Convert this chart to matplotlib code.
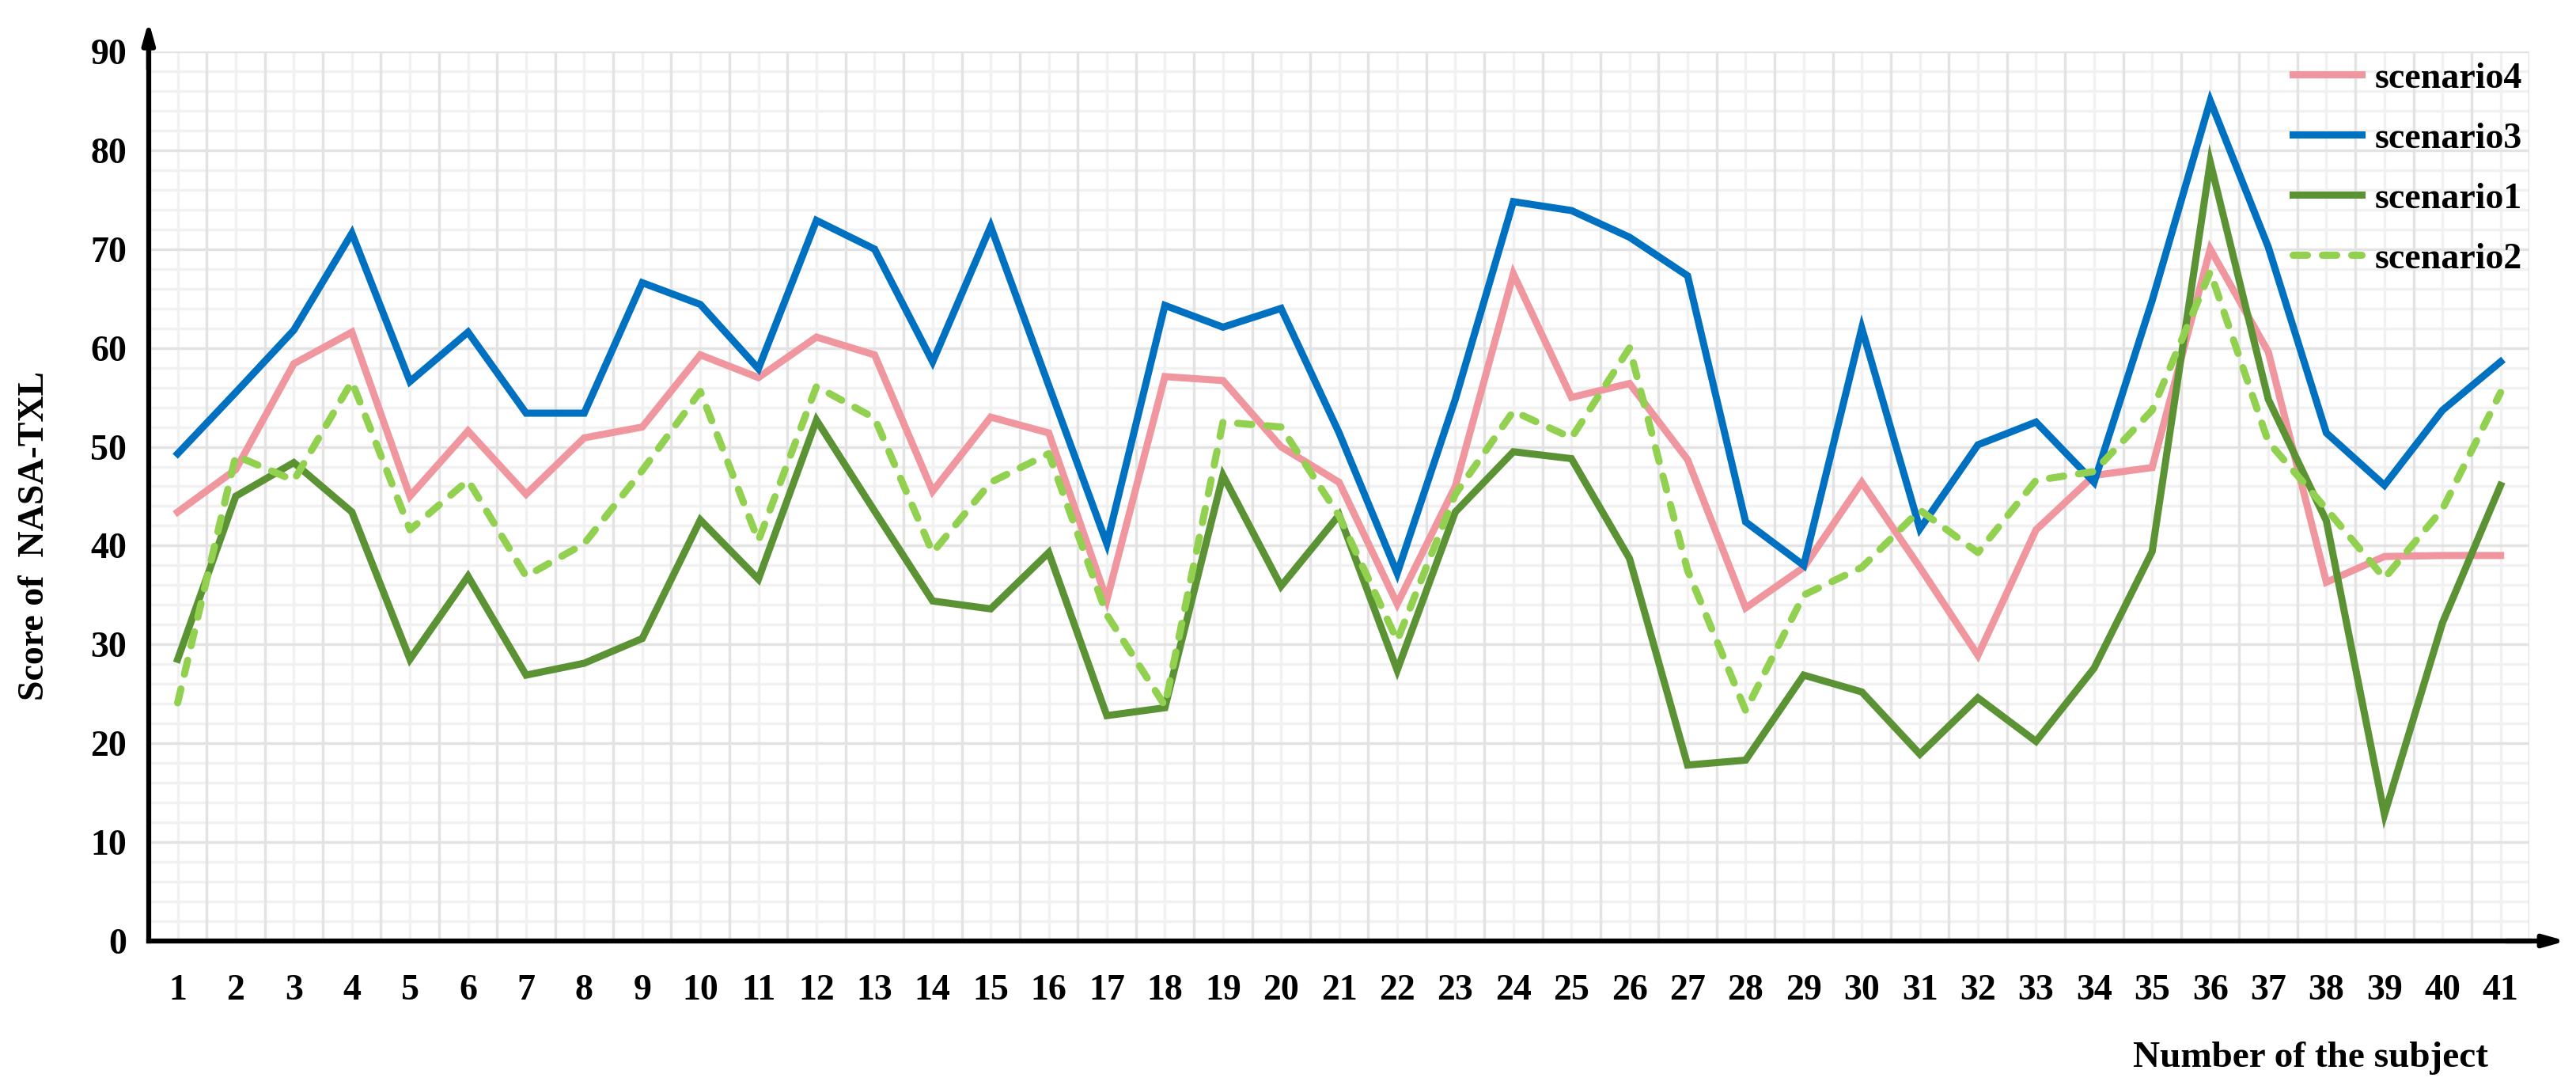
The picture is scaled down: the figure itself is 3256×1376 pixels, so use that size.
import matplotlib
matplotlib.use("Agg")
import matplotlib.pyplot as plt
from matplotlib.ticker import MultipleLocator, FixedLocator

subjects = list(range(1, 42))
scenario4 = [43.4, 47.7, 58.4, 61.6, 45.0, 51.6, 45.2, 50.9, 52.0, 59.3,
             57.0, 61.1, 59.3, 45.5, 53.0, 51.4, 34.5, 57.1, 56.7, 50.0,
             46.4, 34.1, 46.0, 67.5, 55.0, 56.4, 48.7, 33.7, 37.8, 46.4,
             37.8, 28.9, 41.6, 47.1, 47.9, 70.0, 59.6, 36.3, 38.9, 39.0, 39.0]
scenario3 = [49.3, 55.5, 61.8, 71.6, 56.6, 61.6, 53.4, 53.4, 66.6, 64.4,
             57.9, 72.9, 70.0, 58.6, 72.3, 56.2, 40.2, 64.3, 62.1, 64.0,
             51.4, 37.2, 54.8, 74.8, 73.9, 71.2, 67.3, 42.4, 38.0, 62.0,
             41.7, 50.2, 52.5, 46.4, 64.8, 85.0, 70.2, 51.4, 46.1, 53.7, 58.6]
scenario1 = [28.5, 45.0, 48.4, 43.4, 28.5, 36.9, 26.9, 28.1, 30.6, 42.6,
             36.6, 52.7, 43.5, 34.4, 33.6, 39.3, 22.8, 23.6, 47.1, 35.9,
             43.1, 27.4, 43.4, 49.5, 48.8, 38.7, 17.8, 18.3, 26.9, 25.2,
             18.9, 24.6, 20.2, 27.6, 39.4, 78.8, 54.8, 42.5, 12.8, 32.2, 46.1]
scenario2 = [24.1, 49.1, 46.6, 56.6, 41.6, 46.6, 36.9, 40.2, 47.6, 55.6,
             40.5, 56.1, 52.9, 39.3, 46.4, 49.3, 33.0, 23.8, 52.5, 52.0,
             43.0, 30.4, 45.2, 53.6, 50.9, 60.0, 37.5, 23.3, 35.0, 37.8,
             43.6, 39.3, 46.6, 47.5, 53.7, 67.7, 50.5, 43.7, 36.7, 43.7, 55.5]
y_ticks = [0, 10, 20, 30, 40, 50, 60, 70, 80, 90]

plt.rcParams['font.family'] = ['Liberation Serif', 'DejaVu Serif']
plt.rcParams['font.weight'] = 'bold'

fig = plt.figure(figsize=(32.56, 13.76), dpi=100)
ax = fig.add_axes([0.0577, 0.1359, 0.9243, 0.8169])

lw = 6.5
ax.plot(subjects, scenario4, color='#F0969F', lw=lw, label='scenario4', solid_joinstyle='miter', zorder=3)
ax.plot(subjects, scenario3, color='#0070C0', lw=lw, label='scenario3', solid_joinstyle='miter', zorder=4)
ax.plot(subjects, scenario1, color='#5B9234', lw=lw, label='scenario1', solid_joinstyle='miter', zorder=5)
ax.plot(subjects, scenario2, color='#92D050', lw=lw, label='scenario2', dashes=(2.0, 2.1),
        dash_capstyle='round', zorder=6)

ax.set_xlim(0.5, 41.5)
ax.set_ylim(0, 90)
ax.xaxis.set_major_locator(FixedLocator(subjects))
ax.set_xticklabels([str(s) for s in subjects])
ax.yaxis.set_major_locator(FixedLocator(y_ticks))
ax.yaxis.set_minor_locator(MultipleLocator(2))

# grid lines
for v in range(0, 91, 2):
    col = '#E3E3E3' if v % 10 == 0 else '#F1F1F1'
    ax.axhline(v, color=col, lw=2.5, zorder=1 if v % 10 == 0 else 0.5)
for s in subjects:
    ax.axvline(s, color='#F1F1F1', lw=2.5, zorder=0.5)
    ax.axvline(s - 0.5, color='#E3E3E3', lw=2.5, zorder=1)
ax.axvline(41.5, color='#E3E3E3', lw=2.5, zorder=1)

ax.tick_params(axis='both', length=0, labelsize=33)
ax.tick_params(axis='y', pad=20)
ax.tick_params(axis='x', pad=30)
for lab in ax.get_xticklabels() + ax.get_yticklabels():
    lab.set_fontweight('bold')

for sp in ['top', 'right']:
    ax.spines[sp].set_visible(False)
for sp in ['left', 'bottom']:
    ax.spines[sp].set_linewidth(4.5)
    ax.spines[sp].set_color('black')
    ax.spines[sp].set_zorder(7)
    ax.spines[sp].set_capstyle('projecting')

# axis arrows
ax.annotate('', xy=(0, 1.034), xytext=(0, 0.98), xycoords='axes fraction',
            arrowprops=dict(arrowstyle='-|>,head_length=1.6,head_width=0.45', color='black', lw=4.5,
                            shrinkA=0, shrinkB=0), annotation_clip=False)
ax.annotate('', xy=(1.0153, 0), xytext=(0.99, 0), xycoords='axes fraction',
            arrowprops=dict(arrowstyle='-|>,head_length=1.6,head_width=0.45', color='black', lw=4.5,
                            shrinkA=0, shrinkB=0), annotation_clip=False)

fig.text(0.0135, 0.508, 'Score of  NASA-TXL', rotation=90, ha='center', va='center',
         fontsize=33, fontweight='bold')
fig.text(0.897, 0.028, 'Number of the subject', ha='center', va='center',
         fontsize=34, fontweight='bold')

leg = ax.legend(loc='upper right', bbox_to_anchor=(0.979, 0.943), bbox_transform=fig.transFigure,
                frameon=False, fontsize=33, handlelength=1.9, handletextpad=0.35,
                labelspacing=0.74, borderpad=0, borderaxespad=0)
for t in leg.get_texts():
    t.set_fontweight('bold')

fig.savefig('out.png', dpi=100, facecolor='white')
